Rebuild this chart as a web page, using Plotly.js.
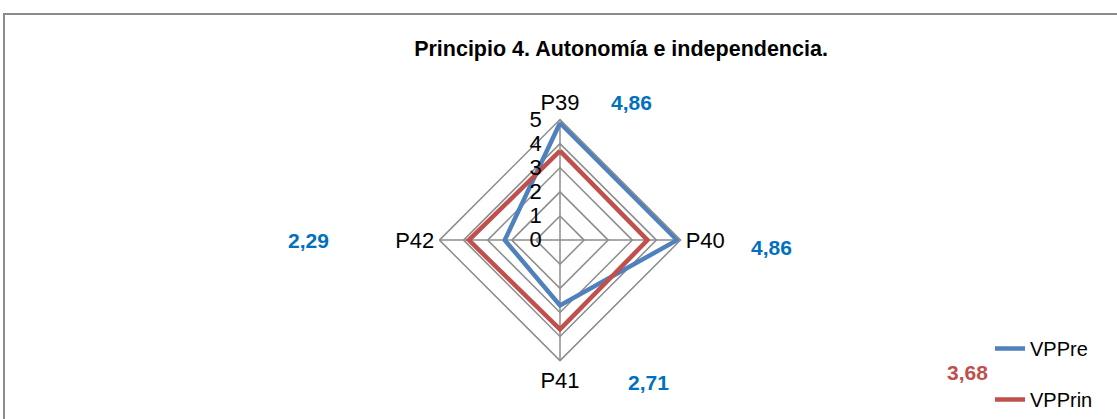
<!DOCTYPE html>
<html><head><meta charset="utf-8">
<script src="https://cdn.plot.ly/plotly-3.0.1.min.js"></script>
<style>
html,body{margin:0;padding:0;background:#fff;}
#wrap{position:relative;width:1117px;height:419px;overflow:hidden;}
#chart{position:absolute;left:0;top:0;width:1117px;height:419px;}
#frame{position:absolute;left:3px;top:13px;width:1200px;height:500px;border:2px solid #8c8c8c;pointer-events:none;}
</style></head>
<body><div id="wrap"><div id="chart"></div><div id="frame"></div></div>
<script>
const categories = ["P39", "P40", "P41", "P42"];
const vppre = [4.86, 4.86, 2.71, 2.29];
const vpprin = [3.7, 3.63, 3.7, 3.78];
const seriesNames = ["VPPre", "VPPrin"];
const radialTicks = [0, 1, 2, 3, 4, 5];
const labelTexts = ["4,86", "4,86", "2,71", "2,29"];
const redLabel = "3,68";

const FONT = "'Liberation Sans Narrow', 'Arial Narrow', 'Liberation Sans', Arial, sans-serif";
const close = a => a.concat([a[0]]);

const traces = [
  {type:"scatterpolar", mode:"lines", name:seriesNames[0], r:close(vppre), theta:close(categories),
   line:{color:"#4f81bd", width:4.5}, legendgroup:"a", hoverinfo:"skip"},
  {type:"scatterpolar", mode:"lines", name:seriesNames[1], r:close(vpprin), theta:close(categories),
   line:{color:"#c0504d", width:4.5}, legendgroup:"b", hoverinfo:"skip"}
];

const W = 1117, H = 419;
const px = (x) => x / W, py = (y) => 1 - y / H;
const labelPos = [[631,104],[771,250],[648,387],[308,243]];
const annotations = labelTexts.map((t, i) => ({
  text:"<b>"+t+"</b>", x:px(labelPos[i][0]), y:py(labelPos[i][1]), xref:"paper", yref:"paper",
  showarrow:false, font:{family:FONT, size:21, color:"#0070c0"}, xanchor:"center", yanchor:"middle"
}));
annotations.push({text:"<b>"+redLabel+"</b>", x:px(967), y:py(377), xref:"paper", yref:"paper",
  showarrow:false, font:{family:FONT, size:21, color:"#c0504d"}, xanchor:"center", yanchor:"middle"});

const cx = 560, cy = 243, R = 122;
const layout = {
  width:W, height:H, margin:{l:0,r:0,t:0,b:0},
  paper_bgcolor:"#fff", plot_bgcolor:"#fff",
  font:{family:FONT, color:"#000"},
  title:{text:"<b>Principio 4. Autonomía e independencia.</b>", x:px(621), y:py(48),
    xanchor:"center", yanchor:"middle", font:{family:FONT, size:21.5, color:"#000"}},
  polar:{
    domain:{x:[(cx-R)/W, (cx+R)/W], y:[1-(cy+R)/H, 1-(cy-R)/H]},
    gridshape:"linear", bgcolor:"rgba(0,0,0,0)",
    angularaxis:{rotation:90, direction:"clockwise", categoryorder:"array", categoryarray:categories,
      showline:true, linecolor:"#8c8c8c", linewidth:1.5, gridcolor:"#8c8c8c", gridwidth:1.5,
      ticks:"", tickfont:{family:FONT, size:22, color:"#000"}},
    radialaxis:{range:[0,5], tickvals:radialTicks, angle:90, tickangle:90, side:"counterclockwise",
      showline:false, gridcolor:"#8c8c8c", gridwidth:1.5, ticks:"outside", ticklen:10,
      tickcolor:"rgba(0,0,0,0)",
      tickfont:{family:FONT, size:22, color:"#000"}}
  },
  showlegend:true,
  legend:{x:px(990), y:py(333), xanchor:"left", yanchor:"top", tracegroupgap:22,
    font:{family:FONT, size:20, color:"#000"}, bgcolor:"rgba(0,0,0,0)"},
  annotations:annotations
};
Plotly.newPlot("chart", traces, layout, {staticPlot:true, displayModeBar:false});
</script></body></html>
